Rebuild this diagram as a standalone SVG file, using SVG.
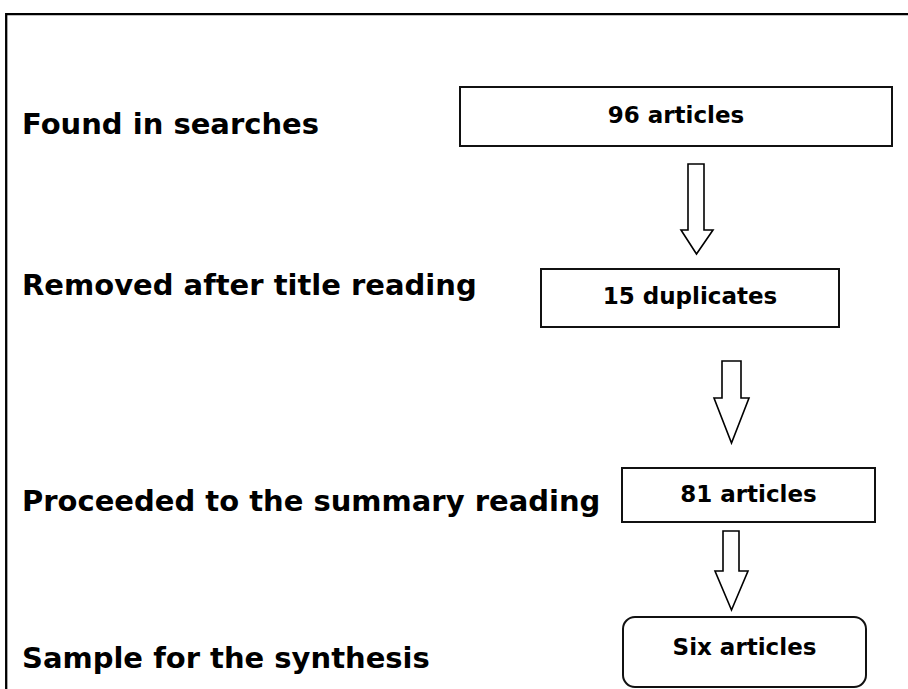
<svg xmlns="http://www.w3.org/2000/svg" width="908" height="689" viewBox="0 0 908 689">
  <style>
    .frame { fill: none; stroke: #000; stroke-width: 2.3; }
    .box { fill: #fff; stroke: #111; stroke-width: 2; }
    .arrow { fill: #fff; stroke: #000; stroke-width: 1.6; stroke-linejoin: miter; }
    .label { font-family: "DejaVu Sans", Verdana, sans-serif; font-weight: bold; font-size: 29px; fill: #000; }
    .count { font-family: "DejaVu Sans", Verdana, sans-serif; font-weight: bold; font-size: 23px; fill: #000; text-anchor: middle; }
  </style>
  <rect width="908" height="689" fill="#fff"/>

  <!-- outer frame: top and left edges only -->
  <path class="frame" d="M6.2 689 V14.2 H908"/>

  <!-- stage labels -->
  <g id="labels">
    <text class="label" x="22" y="134">Found in searches</text>
    <text class="label" x="22" y="295">Removed after title reading</text>
    <text class="label" x="22" y="511">Proceeded to the summary reading</text>
    <text class="label" x="22" y="668">Sample for the synthesis</text>
  </g>

  <g id="found">
    <rect class="box" x="460" y="87" width="432" height="59"/>
    <text class="count" x="676" y="123">96 articles</text>
  </g>

  <g id="duplicates">
    <rect class="box" x="541" y="269" width="298" height="58"/>
    <text class="count" x="690" y="304">15 duplicates</text>
  </g>

  <g id="summary">
    <rect class="box" x="622" y="468" width="253" height="54"/>
    <text class="count" x="748.5" y="502">81 articles</text>
  </g>

  <g id="sample">
    <rect class="box" x="623" y="617" width="243" height="70" rx="12" ry="12"/>
    <text class="count" x="744.5" y="655">Six articles</text>
  </g>

  <!-- block arrows between stages -->
  <g id="connectors">
    <path class="arrow" d="M688 164 H704 V230 H713 L696.5 254 L681 230 H688 Z"/>
    <path class="arrow" d="M722 361 H741 V398 H749 L731.5 443 L714 398 H722 Z"/>
    <path class="arrow" d="M723 531 H739 V571 H748 L731.5 610 L715 571 H723 Z"/>
  </g>
</svg>
